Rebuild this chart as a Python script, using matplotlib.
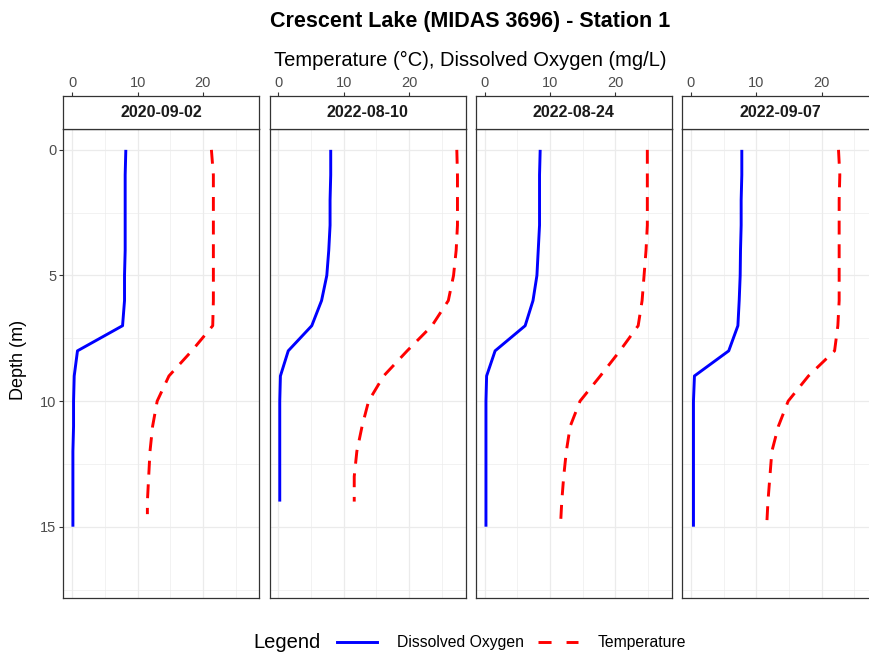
import matplotlib
matplotlib.use("Agg")
import matplotlib.pyplot as plt
from matplotlib.lines import Line2D
from matplotlib.ticker import MultipleLocator

plt.rcParams['font.family'] = ['Liberation Sans', 'DejaVu Sans']
plt.rcParams['lines.scale_dashes'] = False

# ---------------- data ----------------
dates = ["2020-09-02", "2022-08-10", "2022-08-24", "2022-09-07"]

do_depth_1 = [0, 1, 2, 3, 4, 5, 6, 7, 8, 9, 10, 11, 12, 13, 14, 15]
do_1 = [8.2, 8.1, 8.1, 8.1, 8.1, 8.0, 8.0, 7.7, 0.8, 0.3, 0.2, 0.2, 0.1, 0.1, 0.1, 0.1]
temp_depth_1 = [0, 1, 2, 3, 4, 5, 6, 7, 8, 9, 10, 11, 12, 13, 14, 14.5]
temp_1 = [21.3, 21.6, 21.6, 21.6, 21.6, 21.6, 21.6, 21.5, 18.3, 14.8, 13.0, 12.3, 11.9, 11.7, 11.5, 11.5]

do_depth_2 = [0, 1, 2, 3, 4, 5, 6, 7, 8, 9, 10, 11, 12, 13, 14]
do_2 = [8.0, 8.0, 7.9, 7.9, 7.7, 7.4, 6.6, 5.1, 1.5, 0.3, 0.2, 0.2, 0.2, 0.2, 0.2]
temp_depth_2 = [0, 1, 2, 3, 4, 5, 6, 7, 8, 9, 10, 11, 12, 13, 14]
temp_2 = [27.3, 27.4, 27.4, 27.4, 27.2, 26.8, 26.0, 23.5, 19.7, 16.1, 13.8, 12.8, 12.0, 11.6, 11.6]

do_depth_3 = [0, 1, 2, 3, 4, 5, 6, 7, 8, 9, 10, 11, 12, 13, 14, 15]
do_3 = [8.5, 8.4, 8.4, 8.4, 8.2, 8.0, 7.4, 6.2, 1.6, 0.3, 0.2, 0.2, 0.2, 0.2, 0.2, 0.2]
temp_depth_3 = [0, 1, 2, 3, 4, 5, 6, 7, 8, 9, 10, 11, 12, 13, 14, 15]
temp_3 = [24.9, 24.9, 24.9, 24.9, 24.7, 24.4, 24.1, 23.5, 20.7, 17.7, 14.6, 13.1, 12.5, 12.1, 11.8, 11.6]

do_depth_4 = [0, 1, 2, 3, 4, 5, 6, 7, 8, 9, 10, 11, 12, 13, 14, 15]
do_4 = [7.8, 7.8, 7.7, 7.7, 7.6, 7.55, 7.4, 7.2, 5.8, 0.55, 0.4, 0.4, 0.4, 0.4, 0.4, 0.4]
temp_depth_4 = [0, 1, 2, 3, 4, 5, 6, 7, 8, 9, 10, 11, 12, 13, 14, 15]
temp_4 = [22.6, 22.8, 22.7, 22.7, 22.7, 22.7, 22.7, 22.5, 22.0, 18.0, 14.9, 13.4, 12.4, 12.1, 11.8, 11.6]

x_ticks = [0, 10, 20]
y_ticks = [0, 5, 10, 15]

title = "Crescent Lake (MIDAS 3696) - Station 1"
x_title = "Temperature (\u00b0C), Dissolved Oxygen (mg/L)"
y_title = "Depth (m)"
series_names = ["Dissolved Oxygen", "Temperature"]

panels = [
    (dates[0], do_depth_1, do_1, temp_depth_1, temp_1),
    (dates[1], do_depth_2, do_2, temp_depth_2, temp_2),
    (dates[2], do_depth_3, do_3, temp_depth_3, temp_3),
    (dates[3], do_depth_4, do_4, temp_depth_4, temp_4),
]

# ---------------- layout ----------------
W, H = 870, 654
fig = plt.figure(figsize=(W / 100, H / 100), dpi=100)

panel_lefts = [63.3, 269.5, 475.7, 681.9]
panel_w = 196.0
panel_top, panel_bot = 128.5, 598.3
strip_top = 96.0

XLIM = (-1.37, 28.63)
YLIM = (17.85, -0.85)

BORDER = "#333333"
GRID = "#EBEBEB"
TICKLAB = "#4D4D4D"
BLUE = "#0000FF"
RED = "#FF0000"
DASH = (0, (10, 7))

for i, (lab, dd, dv, td, tv) in enumerate(panels):
    l = panel_lefts[i]
    ax = fig.add_axes([l / W, 1 - panel_bot / H, panel_w / W, (panel_bot - panel_top) / H])
    ax.set_xlim(*XLIM)
    ax.set_ylim(*YLIM)
    ax.xaxis.set_major_locator(MultipleLocator(10))
    ax.xaxis.set_minor_locator(MultipleLocator(5))
    ax.yaxis.set_major_locator(MultipleLocator(5))
    ax.yaxis.set_minor_locator(MultipleLocator(2.5))
    ax.grid(which="major", color=GRID, lw=0.9)
    ax.grid(which="minor", color=GRID, lw=0.45)
    ax.set_axisbelow(True)
    ax.tick_params(axis="x", which="both", bottom=False, labelbottom=False)
    ax.tick_params(axis="y", which="minor", left=False)
    if i == 0:
        ax.set_yticks(y_ticks)
        ax.tick_params(axis="y", which="major", length=3, width=0.8, color=BORDER,
                       labelcolor=TICKLAB, labelsize=10.5, pad=2)
    else:
        ax.tick_params(axis="y", which="both", left=False, labelleft=False)
    for s in ax.spines.values():
        s.set_color(BORDER)
        s.set_linewidth(0.9)

    ax.plot(dv, dd, color=BLUE, lw=2.1, solid_capstyle="butt", zorder=3)
    ax.plot(tv, td, color=RED, lw=2.1, linestyle=DASH, dash_capstyle="butt", zorder=3)

    # strip
    st = fig.add_axes([l / W, 1 - panel_top / H, panel_w / W, (panel_top - strip_top) / H])
    st.set_xlim(*XLIM)
    st.set_ylim(0, 1)
    st.set_facecolor("white")
    st.set_yticks([])
    st.xaxis.tick_top()
    st.set_xticks(x_ticks)
    st.tick_params(axis="x", length=3, width=0.8, color=BORDER, labelcolor=TICKLAB,
                   labelsize=10.5, pad=1.5)
    for s in st.spines.values():
        s.set_color(BORDER)
        s.set_linewidth(0.9)
    st.text(0.5, 0.5, lab, transform=st.transAxes, ha="center", va="center",
            fontsize=11.5, fontweight="bold", color="#1A1A1A")

fig.text(470 / W, 1 - 22 / H, title, ha="center", va="center", fontsize=15.5,
         fontweight="bold", color="black")
fig.text(470 / W, 1 - 60 / H, x_title, ha="center", va="center", fontsize=14.5, color="black")
fig.text(19 / W, 1 - 360 / H, y_title, ha="center", va="center", rotation=90,
         fontsize=13, color="black")

# legend
fig.text(253 / W, 1 - 643 / H, "Legend", ha="left", va="center", fontsize=14.5, color="black")
handles = [Line2D([], [], color=BLUE, lw=2.1),
           Line2D([], [], color=RED, lw=2.1, linestyle=(0, (9.4, 10.8)))]
fig.legend(handles, series_names, loc="center left",
           bbox_to_anchor=(337 / W, 1 - 643 / H), ncol=2, frameon=False,
           fontsize=11.3, handlelength=2.55, handletextpad=1.27, columnspacing=0.9,
           borderpad=0, borderaxespad=0)

fig.savefig("out.png", dpi=100)
